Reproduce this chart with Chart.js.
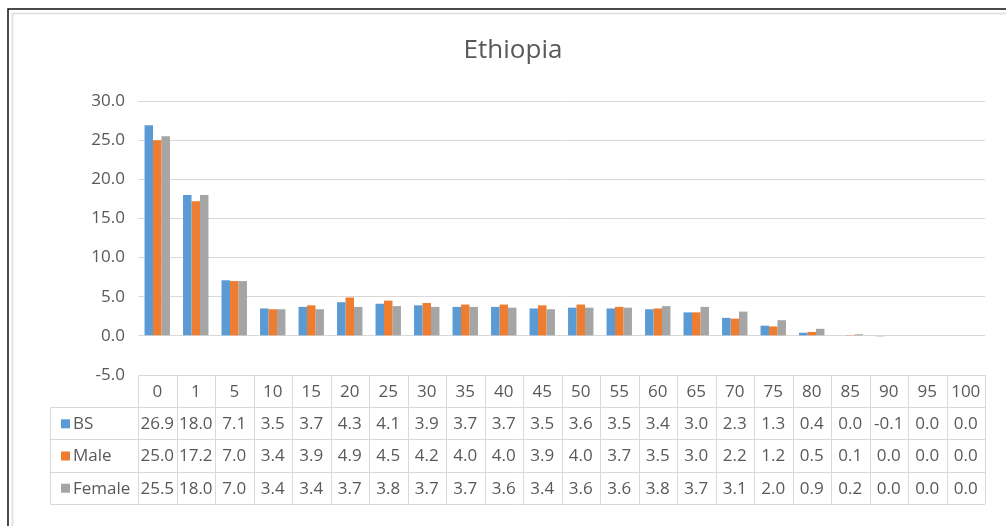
<!DOCTYPE html>
<html>
<head>
<meta charset="utf-8">
<title>Ethiopia</title>
<script src="https://cdn.jsdelivr.net/npm/chart.js@4/dist/chart.umd.min.js"></script>
<style>
  html, body { margin: 0; padding: 0; background: #fff; }
  canvas { display: block; }
</style>
</head>
<body>
<canvas id="chart" width="1006" height="526"></canvas>
<script>
// Age groups and the three series shown in the chart and its data table
const ageGroups = ['0','1','5','10','15','20','25','30','35','40','45','50','55','60','65','70','75','80','85','90','95','100'];
const seriesNames = ['BS', 'Male', 'Female'];
const bsValues     = [26.9, 18.0, 7.1, 3.5, 3.7, 4.3, 4.1, 3.9, 3.7, 3.7, 3.5, 3.6, 3.5, 3.4, 3.0, 2.3, 1.3, 0.4, 0.0, -0.1, 0.0, 0.0];
const maleValues   = [25.0, 17.2, 7.0, 3.4, 3.9, 4.9, 4.5, 4.2, 4.0, 4.0, 3.9, 4.0, 3.7, 3.5, 3.0, 2.2, 1.2, 0.5, 0.1, 0.0, 0.0, 0.0];
const femaleValues = [25.5, 18.0, 7.0, 3.4, 3.4, 3.7, 3.8, 3.7, 3.7, 3.6, 3.4, 3.6, 3.6, 3.8, 3.7, 3.1, 2.0, 0.9, 0.2, 0.0, 0.0, 0.0];
const seriesColors = ['#5B9BD5', '#ED7D31', '#A5A5A5'];
const yMin = -5, yMax = 30, yStep = 5;

const FONT = '"Open Sans", "DejaVu Sans", sans-serif';
const TEXT = '#595959';
const GRID = '#D9D9D9';

// Draws the outer frame, the chart title and the data table under the plot
const frameAndTable = {
  id: 'frameAndTable',
  beforeDraw(chart) {
    const ctx = chart.ctx;
    ctx.save();
    ctx.fillStyle = '#fff';
    ctx.fillRect(0, 0, chart.width, chart.height);
    // outer frame
    ctx.strokeStyle = '#E3E3E3';
    ctx.lineWidth = 2;
    ctx.beginPath();
    ctx.moveTo(12.5, chart.height);
    ctx.lineTo(12.5, 13.5);
    ctx.lineTo(chart.width, 13.5);
    ctx.stroke();
    ctx.strokeStyle = '#111';
    ctx.lineWidth = 1.5;
    ctx.beginPath();
    ctx.moveTo(8, chart.height);
    ctx.lineTo(8, 9);
    ctx.lineTo(chart.width, 9);
    ctx.stroke();
    ctx.restore();
  },
  afterDraw(chart) {
    const ctx = chart.ctx;
    const area = chart.chartArea;
    const n = ageGroups.length;
    const colW = (area.right - area.left) / n;
    const top = area.bottom;
    const rowH = 32.2;
    const tableLeft = 50;
    const rows = [bsValues, maleValues, femaleValues];

    ctx.save();
    // title
    ctx.fillStyle = TEXT;
    ctx.font = '26px ' + FONT;
    ctx.textAlign = 'center';
    ctx.textBaseline = 'middle';
    ctx.fillText('Ethiopia', 513, 51);

    // table grid
    ctx.strokeStyle = GRID;
    ctx.lineWidth = 1;
    ctx.beginPath();
    for (let i = 0; i <= n; i++) {
      const x = Math.round(area.left + i * colW) + 0.5;
      ctx.moveTo(x, top);
      ctx.lineTo(x, top + rowH * 4);
    }
    for (let r = 1; r <= 4; r++) {
      const y = Math.round(top + r * rowH) + 0.5;
      ctx.moveTo(tableLeft, y);
      ctx.lineTo(area.right, y);
    }
    ctx.moveTo(tableLeft + 0.5, Math.round(top + rowH) + 0.5);
    ctx.lineTo(tableLeft + 0.5, Math.round(top + rowH * 4) + 0.5);
    ctx.stroke();

    // category header
    ctx.font = '17px ' + FONT;
    ctx.fillStyle = TEXT;
    ctx.textAlign = 'center';
    for (let i = 0; i < n; i++) {
      const cx = chart.scales.x.getPixelForValue(i);
      ctx.fillText(ageGroups[i], cx, top + rowH / 2 + 1);
    }
    // series rows
    rows.forEach((vals, r) => {
      const cy = top + rowH * (r + 1) + rowH / 2 + 1;
      ctx.fillStyle = seriesColors[r];
      ctx.fillRect(61, cy - 5, 9, 9);
      ctx.fillStyle = TEXT;
      ctx.textAlign = 'left';
      ctx.fillText(seriesNames[r], 73, cy);
      ctx.textAlign = 'center';
      vals.forEach((v, i) => {
        const cx = chart.scales.x.getPixelForValue(i);
        ctx.fillText(v.toFixed(1), cx, cy);
      });
    });
    ctx.restore();
  }
};

new Chart(document.getElementById('chart'), {
  type: 'bar',
  data: {
    labels: ageGroups,
    datasets: [
      { label: seriesNames[0], data: bsValues,     backgroundColor: seriesColors[0] },
      { label: seriesNames[1], data: maleValues,   backgroundColor: seriesColors[1] },
      { label: seriesNames[2], data: femaleValues, backgroundColor: seriesColors[2] }
    ]
  },
  options: {
    responsive: false,
    devicePixelRatio: 1,
    animation: false,
    datasets: { bar: { categoryPercentage: 0.66, barPercentage: 1.0 } },
    layout: { padding: { top: 101, bottom: 151, left: 0, right: 21 } },
    plugins: { legend: { display: false }, title: { display: false }, tooltip: { enabled: false } },
    scales: {
      x: { display: false },
      y: {
        min: yMin,
        max: yMax,
        afterFit(scale) { scale.width = 138; },
        border: { display: false },
        grid: { color: GRID, drawTicks: false, lineWidth: 1 },
        ticks: {
          stepSize: yStep,
          padding: 13,
          color: TEXT,
          font: { family: FONT, size: 17 },
          callback: v => Number(v).toFixed(1)
        }
      }
    }
  },
  plugins: [frameAndTable]
});
</script>
</body>
</html>
